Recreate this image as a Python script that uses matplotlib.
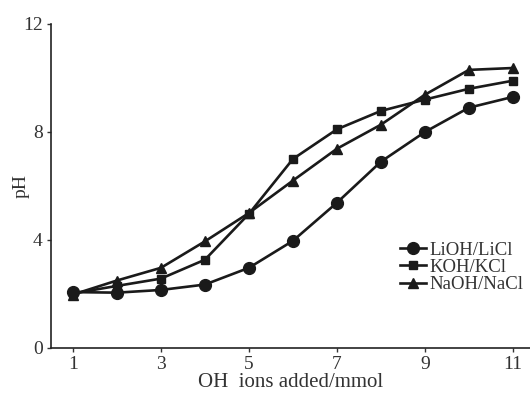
import matplotlib
matplotlib.use("Agg")
import matplotlib.pyplot as plt

x = [1, 2, 3, 4, 5, 6, 7, 8, 9, 10, 11]
lioh = [2.07, 2.05, 2.15, 2.35, 2.97, 3.97, 5.38, 6.9, 8.0, 8.9, 9.3]
koh = [2.02, 2.3, 2.57, 3.27, 4.97, 7.0, 8.1, 8.78, 9.2, 9.6, 9.9]
naoh = [1.98, 2.5, 2.97, 3.95, 5.0, 6.2, 7.38, 8.27, 9.38, 10.3, 10.37]
xticks = [1, 3, 5, 7, 9, 11]
yticks = [0, 4, 8, 12]

plt.rcParams['font.family'] = ['Liberation Serif', 'DejaVu Serif']
col = '#1a1a1a'

fig = plt.figure(figsize=(5.30, 3.94), dpi=100)
ax = fig.add_axes([51/530, 46/394, 479/530, 324/394])

ax.plot(x, lioh, marker='o', ms=8.5, color=col, lw=1.9, label='LiOH/LiCl', clip_on=False)
ax.plot(x, koh, marker='s', ms=5.8, color=col, lw=1.9, label='KOH/KCl', clip_on=False)
ax.plot(x, naoh, marker='^', ms=6.5, color=col, lw=1.9, label='NaOH/NaCl', clip_on=False)

ax.set_xlim(0.5, 11.39)
ax.set_ylim(0, 12)
ax.set_xticks(xticks)
ax.set_yticks(yticks)
ax.tick_params(labelsize=14, length=3, width=1, colors='#333333', labelcolor='#333333', pad=3)
for s in ['top', 'right']:
    ax.spines[s].set_visible(False)
for s in ['left', 'bottom']:
    ax.spines[s].set_linewidth(1.2)
    ax.spines[s].set_color('#222222')

ax.set_xlabel('OH  ions added/mmol', fontsize=15, color='#333333', labelpad=0)
ax.set_ylabel('pH', fontsize=14, color='#333333')
ax.yaxis.set_label_coords(-0.045, 0.5)

ax.legend(loc='upper left', bbox_to_anchor=(0.708, 0.357), frameon=False, fontsize=13.5,
          handlelength=1.4, handletextpad=0.2, labelspacing=0.0, borderpad=0,
          labelcolor='#333333')

fig.savefig('out.png', dpi=100)
